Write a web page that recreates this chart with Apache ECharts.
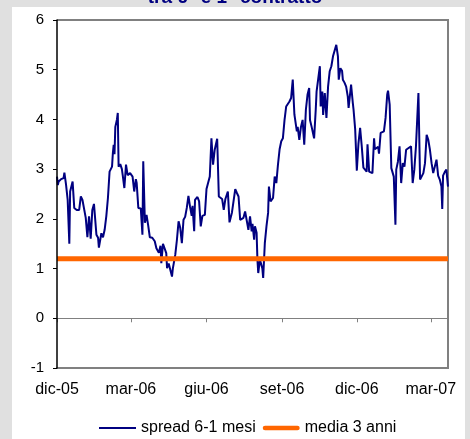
<!DOCTYPE html>
<html>
<head>
<meta charset="utf-8">
<script src="https://cdn.jsdelivr.net/npm/echarts@6/dist/echarts.min.js"></script>
<style>
  html, body { margin: 0; padding: 0; background: #e0e0e0; }
  #panel { position: absolute; left: 12px; top: 7px; width: 453px; height: 432px; background: #ffffff; }
  #chart { position: absolute; left: 0; top: 0; width: 470px; height: 439px; }
  #frame { position: absolute; left: 57px; top: 19px; width: 390px; height: 348px; border-top: 2px solid #808080; border-right: 2px solid #808080; }
</style>
</head>
<body>
<div id="panel"></div>
<div id="frame"></div>
<div id="chart"></div>
<script>
// Days since 1 Dec 2005
const spreadDays = [
  0,1,2,5,8,9,11,13,15,16,
  19,21,24,27,29,31,33,35,37,39,
  40,41,43,45,47,48,50,51,54,55,
  56,58,60,62,64,67,68,69,70,71,
  73,74,75,77,79,80,82,84,86,88,
  89,92,94,96,97,99,102,104,105,107,
  109,111,113,116,119,121,123,124,126,127,
  129,131,133,134,136,138,140,141,144,146,
  148,150,152,154,156,158,160,162,164,165,
  167,168,171,173,175,177,179,180,182,183,
  186,188,190,192,195,197,199,201,203,205,
  208,210,213,214,217,219,221,223,225,227,
  229,231,233,235,237,238,240,241,243,244,
  245,247,250,251,253,255,257,258,260,263,
  265,267,269,271,273,275,277,279,281,283,
  285,287,289,292,293,295,297,299,301,303,
  305,307,308,310,313,315,316,318,320,321,
  323,324,326,328,330,332,334,336,338,340,
  342,343,345,347,348,350,352,354,355,358,
  360,361,363,365,367,369,371,373,375,377,
  378,380,382,384,386,387,389,391,392,394,
  396,398,400,402,403,405,407,410,412,413,
  415,417,419,421,423,425,427,431,433,435,
  437,440,442,444,446,448,450,452,454,456,
  458,460,462,464,466,468,469,470,472,474,
  476
];
const spreadValues = [
  2.85,2.68,2.75,2.8,2.82,2.93,2.69,2.38,1.5,2.55,
  2.75,2.22,2.18,2.18,2.45,2.38,2.36,2.02,1.63,2.05,
  2.08,1.6,2.18,2.3,2.34,1.68,1.62,1.42,1.71,1.73,
  1.63,1.78,2.05,2.42,2.95,3.05,3.32,3.49,3.3,3.85,
  4.0,4.13,3.05,3.1,3.0,2.88,2.62,3.09,2.88,2.88,
  2.92,2.85,2.55,2.8,2.72,2.22,2.21,1.68,3.16,1.92,
  2.08,1.87,1.63,1.62,1.55,1.41,1.42,1.32,1.46,1.11,
  1.5,1.53,1.31,1.01,1.1,1.08,0.84,1.0,1.28,1.58,
  1.95,1.82,1.51,1.98,2.04,2.22,2.46,2.24,2.06,2.26,
  1.75,2.38,2.44,2.35,1.85,2.06,2.03,2.08,2.6,2.62,
  2.85,3.62,3.09,3.39,3.61,2.45,2.45,2.4,2.18,2.4,
  2.55,1.93,2.13,2.13,2.6,2.52,2.45,1.98,2.0,2.02,
  2.15,2.18,1.78,2.05,1.75,1.9,1.58,1.85,1.72,1.18,
  0.91,1.18,1.0,0.81,1.51,1.85,2.12,2.65,2.35,2.42,
  2.85,2.72,3.09,3.4,3.56,3.62,3.99,4.26,4.3,4.36,
  4.43,4.8,4.1,3.76,3.85,3.59,3.85,3.99,3.49,4.2,
  4.5,4.63,3.99,3.85,3.62,4.2,4.56,4.58,5.07,4.26,
  4.56,4.09,4.53,4.03,4.66,4.97,5.07,5.27,5.3,5.5,
  5.27,4.8,5.03,4.98,4.8,4.74,4.66,4.46,4.23,4.7,
  4.35,4.2,3.8,2.97,3.52,3.83,3.46,3.03,3.0,2.95,
  3.5,2.95,2.97,2.92,3.62,3.4,3.42,3.45,3.31,3.73,
  3.75,3.76,4.03,4.5,4.58,4.3,3.02,2.85,1.88,2.99,
  3.15,3.46,2.72,3.12,3.05,3.39,3.42,3.46,2.72,2.99,
  3.46,4.53,2.79,2.8,2.92,3.12,3.69,3.59,3.39,3.12,
  2.92,2.9,3.19,2.87,2.79,2.65,2.2,2.87,2.94,2.99,
  2.65
];
const mediaDays = [0, 476];
const mediaValues = [1.2, 1.2];
const tickDays = [0, 90, 182, 274, 365, 455];
const tickLabels = ['dic-05', 'mar-06', 'giu-06', 'set-06', 'dic-06', 'mar-07'];
const seriesNames = ['spread 6-1 mesi', 'media 3 anni'];
const titleText = 'tra 6° e 1° contratto';

const FONT = 'Liberation Sans, Arial, sans-serif';
const X_MIN = 0, X_MAX = 476, Y_MIN = -1, Y_MAX = 6;
const W = 470, H = 439;
const GRID = { left: 57, right: 22, top: 20, bottom: 71 };
const plotH = H - GRID.top - GRID.bottom;
const zeroOffset = -plotH * (0 - Y_MIN) / (Y_MAX - Y_MIN);

const spreadData = spreadDays.map((d, i) => [d, spreadValues[i]]);
const mediaData = mediaDays.map((d, i) => [d, mediaValues[i]]);

const chart = echarts.init(document.getElementById('chart'), null, { renderer: 'canvas' });
chart.setOption({
  backgroundColor: 'transparent',
  animation: false,
  title: {
    text: titleText,
    left: 'center',
    top: -17,
    textStyle: { fontFamily: FONT, fontSize: 19, fontWeight: 'bold', color: '#000080' }
  },
  grid: GRID,
  legend: {
    left: 99, top: 420, padding: 0,
    itemWidth: 37, itemHeight: 14, itemGap: 7,
    textStyle: { fontFamily: FONT, fontSize: 16, color: '#000' },
    data: [
      { name: seriesNames[0], icon: 'path://M0,0H37V2H0Z' },
      { name: seriesNames[1], icon: 'path://M2.5,0H37.5A2.5,2.5,0,0,1,37.5,5H2.5A2.5,2.5,0,0,1,2.5,0Z' }
    ]
  },
  xAxis: [
    {
      type: 'value', min: X_MIN, max: X_MAX, position: 'bottom', offset: zeroOffset,
      axisLine: { show: true, onZero: false, lineStyle: { color: '#808080', width: 1 } },
      axisTick: { show: true, inside: false, length: 4, customValues: tickDays, lineStyle: { color: '#808080' } },
      axisLabel: { show: false },
      splitLine: { show: false }
    },
    {
      type: 'value', min: X_MIN, max: X_MAX, position: 'bottom',
      axisLine: { show: true, onZero: false, lineStyle: { color: '#808080', width: 2 } },
      axisTick: { show: false },
      axisLabel: {
        show: true, customValues: tickDays, margin: 14,
        fontFamily: FONT, fontSize: 16, color: '#000',
        formatter: v => { const i = tickDays.indexOf(v); return i >= 0 ? tickLabels[i] : ''; }
      },
      splitLine: { show: false }
    }
  ],
  yAxis: {
    type: 'value', min: Y_MIN, max: Y_MAX, interval: 1, position: 'left',
    axisLine: { show: true, onZero: false, lineStyle: { color: '#000', width: 1.5 } },
    axisTick: { show: true, inside: false, length: 4, lineStyle: { color: '#000' } },
    axisLabel: { margin: 13, fontFamily: FONT, fontSize: 15, color: '#000' },
    splitLine: { show: false },
    z: 5
  },
  series: [
    {
      name: seriesNames[0], type: 'line', xAxisIndex: 0, yAxisIndex: 0, data: spreadData,
      symbol: 'none', lineStyle: { color: '#000080', width: 2 }, itemStyle: { color: '#000080' },
      z: 3
    },
    {
      name: seriesNames[1], type: 'line', xAxisIndex: 0, yAxisIndex: 0, data: mediaData,
      symbol: 'none', lineStyle: { color: '#ff6600', width: 5, cap: 'butt' }, itemStyle: { color: '#ff6600' },
      z: 4
    }
  ]
});
</script>
</body>
</html>
